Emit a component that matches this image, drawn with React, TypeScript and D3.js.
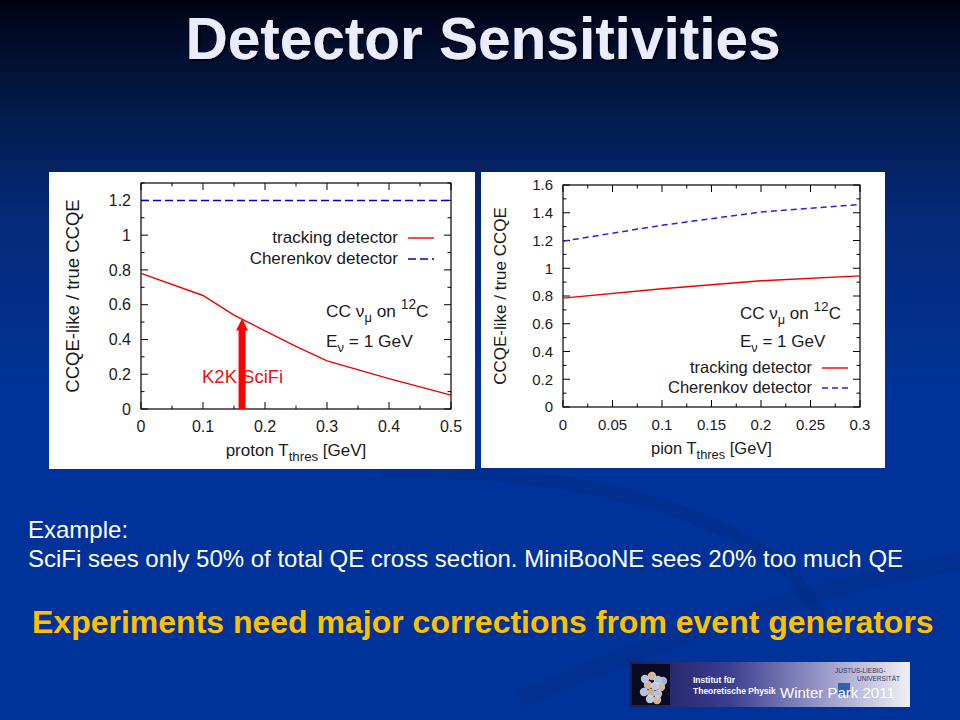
import React from "react";
import * as d3 from "d3";

// ---------- data ----------
const protonT = [0, 0.1, 0.15, 0.2, 0.25, 0.3, 0.4, 0.5];
const protonTracking = [0.78, 0.653, 0.54, 0.45, 0.36, 0.277, 0.175, 0.08];
const protonCherenkov = [1.2, 1.2, 1.2, 1.2, 1.2, 1.2, 1.2, 1.2];

const pionT = [0, 0.1, 0.2, 0.3];
const pionTracking = [0.785, 0.852, 0.91, 0.945];
const pionCherenkov = [1.195, 1.31, 1.405, 1.46];

const leftXTicks = [0, 0.1, 0.2, 0.3, 0.4, 0.5];
const leftYTicks = [0, 0.2, 0.4, 0.6, 0.8, 1, 1.2];
const rightXTicks = [0, 0.05, 0.1, 0.15, 0.2, 0.25, 0.3];
const rightYTicks = [0, 0.2, 0.4, 0.6, 0.8, 1, 1.2, 1.4, 1.6];

const k2kArrowX = 0.163;
const k2kArrowTip = 0.52;

const FONT = "'Liberation Sans', Arial, sans-serif";

type PanelProps = {
  box: [number, number, number, number];
  plot: [number, number, number, number];
  xDomain: [number, number];
  yDomain: [number, number];
  xTicks: number[];
  yTicks: number[];
  xMinorStep: number;
  yMinorStep: number;
  xs: number[];
  tracking: number[];
  cherenkov: number[];
  dash: string;
  blue: string;
  xLabel: string;
  yLabelX: number;
  sizes: { tick: number; legend: number; ylab: number; xlab: number; info: number };
  legend: { right: number; y1: number; y2: number };
  info: { x: number; y1: number; y2: number };
  children?: (x: d3.ScaleLinear<number, number>, y: d3.ScaleLinear<number, number>) => React.ReactNode;
};

const fmt = (v: number) => String(+v.toFixed(3));

function range(a: number, b: number, step: number) {
  const out: number[] = [];
  const n = Math.round((b - a) / step);
  for (let i = 0; i <= n; i++) out.push(+(a + i * step).toFixed(6));
  return out;
}

function Panel(p: PanelProps) {
  const [px0, py0, px1, py1] = p.plot;
  const x = d3.scaleLinear().domain(p.xDomain).range([px0, px1]);
  const y = d3.scaleLinear().domain(p.yDomain).range([py1, py0]);
  const line = d3
    .line<number>()
    .x((_, i) => x(p.xs[i]))
    .y((d) => y(d));
  const xMinor = range(p.xDomain[0], p.xDomain[1], p.xMinorStep);
  const yMinor = range(p.yDomain[0], p.yDomain[1], p.yMinorStep);
  const isMajor = (v: number, arr: number[]) => arr.some((t) => Math.abs(t - v) < 1e-6);
  const maj = 7;
  const min = 3.5;
  const [bx0, by0, bx1, by1] = p.box;
  const cx = (px0 + px1) / 2;
  const cy = (py0 + py1) / 2;
  const s = p.sizes;
  return (
    <g>
      <rect x={bx0} y={by0} width={bx1 - bx0} height={by1 - by0} fill="#ffffff" />
      <g stroke="#000" strokeWidth={1}>
        {xMinor.map((v) => {
          const len = isMajor(v, p.xTicks) ? maj : min;
          return (
            <g key={"x" + v}>
              <line x1={x(v)} x2={x(v)} y1={py1} y2={py1 - len} />
              <line x1={x(v)} x2={x(v)} y1={py0} y2={py0 + len} />
            </g>
          );
        })}
        {yMinor.map((v) => {
          const len = isMajor(v, p.yTicks) ? maj : min;
          return (
            <g key={"y" + v}>
              <line x1={px0} x2={px0 + len} y1={y(v)} y2={y(v)} />
              <line x1={px1} x2={px1 - len} y1={y(v)} y2={y(v)} />
            </g>
          );
        })}
      </g>
      <rect x={px0} y={py0} width={px1 - px0} height={py1 - py0} fill="none" stroke="#000" strokeWidth={1.2} />
      <g fontFamily={FONT} fill="#1a1a1a">
        <g fontSize={s.tick}>
          {p.xTicks.map((v) => (
            <text key={"xl" + v} x={x(v)} y={py1 + 23} textAnchor="middle">
              {fmt(v)}
            </text>
          ))}
          {p.yTicks.map((v) => (
            <text key={"yl" + v} x={px0 - 10} y={y(v) + s.tick * 0.36} textAnchor="end">
              {fmt(v)}
            </text>
          ))}
        </g>
        <text x={cx} y={py1 + 47} textAnchor="middle" fontSize={s.xlab}>
          {p.xLabel} T<tspan fontSize={s.xlab * 0.78} dy={5}>thres</tspan>
          <tspan dy={-5}> [GeV]</tspan>
        </text>
        <text transform={`translate(${p.yLabelX},${cy}) rotate(-90)`} textAnchor="middle" fontSize={s.ylab}>
          CCQE-like / true CCQE
        </text>
        {/* legend */}
        <g fontSize={s.legend}>
          <text x={p.legend.right} y={p.legend.y1} textAnchor="end">tracking detector</text>
          <text x={p.legend.right} y={p.legend.y2} textAnchor="end">Cherenkov detector</text>
        </g>
        {/* info */}
        <g fontSize={s.info}>
          <text x={p.info.x} y={p.info.y1}>
            CC ν<tspan fontSize={s.info * 0.75} dy={5}>μ</tspan>
            <tspan dy={-5}> on </tspan>
            <tspan fontSize={s.info * 0.8} dy={-8}>12</tspan>
            <tspan dy={8}>C</tspan>
          </text>
          <text x={p.info.x} y={p.info.y2}>
            E<tspan fontSize={s.info * 0.75} dy={5}>ν</tspan>
            <tspan dy={-5}> = 1 GeV</tspan>
          </text>
        </g>
      </g>
      <line x1={p.legend.right + 10} x2={p.legend.right + 36} y1={p.legend.y1 - 5} y2={p.legend.y1 - 5} stroke="#ee0000" strokeWidth={1.4} />
      <line x1={p.legend.right + 10} x2={p.legend.right + 36} y1={p.legend.y2 - 5} y2={p.legend.y2 - 5} stroke={p.blue} strokeWidth={1.4} strokeDasharray={p.dash} />
      <path d={line(p.cherenkov) || ""} fill="none" stroke={p.blue} strokeWidth={1.5} strokeDasharray={p.dash} />
      <path d={line(p.tracking) || ""} fill="none" stroke="#ee0000" strokeWidth={1.4} />
      {p.children ? p.children(x, y) : null}
    </g>
  );
}

function Logo() {
  const balls: [number, number, string][] = [
    [645, 679, "#c8d4f0"], [652, 676, "#e8c8a8"], [658, 680, "#c8d4f0"], [648, 685, "#e8c8a8"],
    [655, 686, "#d0dcf4"], [661, 687, "#e8c8a8"], [644, 692, "#c8d4f0"], [651, 693, "#e0c0a0"],
    [658, 694, "#c8d4f0"], [650, 699, "#d0dcf4"], [657, 700, "#e8c8a8"], [663, 681, "#b8c4e8"],
  ];
  return (
    <g>
      <defs>
        <linearGradient id="logoGrad" x1="0" x2="1" y1="0" y2="0">
          <stop offset="0" stopColor="#1c1c5a" />
          <stop offset="0.35" stopColor="#3a3c8e" />
          <stop offset="0.7" stopColor="#9c9ccc" />
          <stop offset="1" stopColor="#f0f0f6" />
        </linearGradient>
      </defs>
      <rect x={630} y={662} width={280} height={45} fill="url(#logoGrad)" />
      <rect x={632} y={664} width={38} height={41} fill="#0a0a20" />
      {balls.map(([bx, by, c], i) => (
        <circle key={i} cx={bx} cy={by} r={4.2} fill={c} opacity={0.9} />
      ))}
      <g fontFamily={FONT} fontWeight="bold" fontSize={8.5} fill="#ffffff">
        <text x={693} y={683}>Institut für</text>
        <text x={693} y={694}>Theoretische Physik</text>
      </g>
      <g fontFamily={FONT} fontSize={6.5} fill="#333355">
        <text x={835} y={673}>JUSTUS-LIEBIG-</text>
        <text x={857} y={681}>UNIVERSITÄT</text>
      </g>
      <rect x={838} y={683} width={12} height={12} fill="#3060b0" />
      <text x={780} y={698} fontFamily={FONT} fontSize={15} fill="#ffffff">Winter Park 2011</text>
    </g>
  );
}

export default function App() {
  return (
    <svg width={960} height={720} viewBox="0 0 960 720" style={{ display: "block", position: "absolute", left: 0, top: 0 }}>
      <defs>
        <linearGradient id="bg" x1="0" x2="0" y1="0" y2="1">
          <stop offset="0" stopColor="#000210" />
          <stop offset="0.03" stopColor="#010820" />
          <stop offset="0.15" stopColor="#041a4a" />
          <stop offset="0.3" stopColor="#052a78" />
          <stop offset="0.55" stopColor="#003399" />
          <stop offset="1" stopColor="#003399" />
        </linearGradient>
        <filter id="shadow" x="-5%" y="-20%" width="110%" height="140%">
          <feDropShadow dx="2" dy="2" stdDeviation="1" floodColor="#000000" floodOpacity="0.8" />
        </filter>
      </defs>
      <rect x={0} y={0} width={960} height={720} fill="url(#bg)" />
      {/* faint swooshes */}
      <path d="M 380 470 C 600 470, 780 520, 820 620" fill="none" stroke="#022c88" strokeWidth={14} opacity={0.5} />
      <path d="M 520 700 C 700 620, 860 580, 960 560" fill="none" stroke="#022c88" strokeWidth={18} opacity={0.45} />

      <text x={483} y={59} textAnchor="middle" fontFamily={FONT} fontWeight="bold" fontSize={58.5} fill="#ececff" filter="url(#shadow)">
        Detector Sensitivities
      </text>

      <Panel
        box={[49, 172, 475, 469]}
        plot={[141, 183, 451, 409]}
        xDomain={[0, 0.5]}
        yDomain={[0, 1.3]}
        xTicks={leftXTicks}
        yTicks={leftYTicks}
        xMinorStep={0.05}
        yMinorStep={0.1}
        xs={protonT}
        tracking={protonTracking}
        cherenkov={protonCherenkov}
        dash="8,4"
        blue="#0000c8"
        xLabel="proton"
        yLabelX={79}
        sizes={{ tick: 16, legend: 17, ylab: 18.5, xlab: 17, info: 17.3 }}
        legend={{ right: 398, y1: 243, y2: 264 }}
        info={{ x: 326, y1: 317, y2: 347 }}
      >
        {(x, y) => {
          const ax = x(k2kArrowX);
          const tip = y(k2kArrowTip);
          const base = y(0);
          return (
            <g>
              <text x={202} y={383} fontFamily={FONT} fontSize={18.5} fill="#ee1111">K2K SciFi</text>
              <rect x={ax - 3.5} y={tip + 10} width={7} height={base - tip - 10} fill="#ff0000" />
              <polygon points={`${ax},${tip} ${ax - 6},${tip + 12} ${ax + 6},${tip + 12}`} fill="#ff0000" />
            </g>
          );
        }}
      </Panel>

      <Panel
        box={[481, 172, 885, 468]}
        plot={[563, 185, 860, 407]}
        xDomain={[0, 0.3]}
        yDomain={[0, 1.6]}
        xTicks={rightXTicks}
        yTicks={rightYTicks}
        xMinorStep={0.025}
        yMinorStep={0.1}
        xs={pionT}
        tracking={pionTracking}
        cherenkov={pionCherenkov}
        dash="6,4"
        blue="#2222dd"
        xLabel="pion"
        yLabelX={506}
        sizes={{ tick: 15, legend: 16.5, ylab: 17, xlab: 16.5, info: 17 }}
        legend={{ right: 812, y1: 373, y2: 393 }}
        info={{ x: 740, y1: 319, y2: 347 }}
      />

      <g fontFamily={FONT} fontSize={24} fill="#ffffff">
        <text x={28} y={538}>Example:</text>
        <text x={28} y={567}>SciFi sees only 50% of total QE cross section. MiniBooNE sees 20% too much QE</text>
      </g>
      <text x={32} y={633} fontFamily={FONT} fontWeight="bold" fontSize={32} fill="#ffc000">
        Experiments need major corrections from event generators
      </text>

      <Logo />
    </svg>
  );
}
